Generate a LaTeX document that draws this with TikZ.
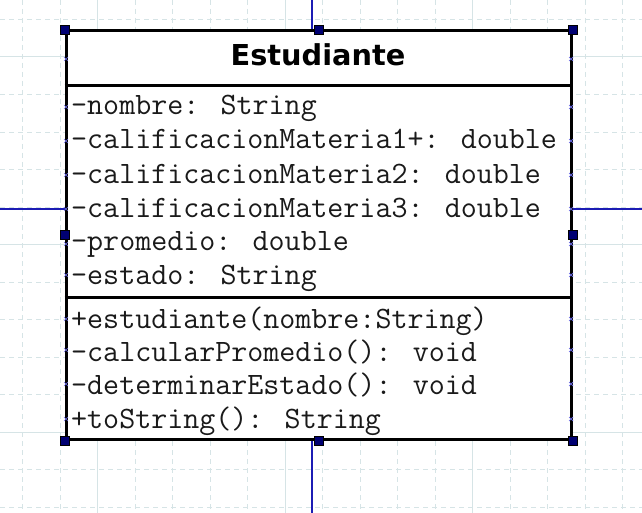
\documentclass[tikz,border=0pt]{standalone}
\usepackage{fontspec}
\usepackage{tikz}
\usetikzlibrary{calc}
\newfontfamily\titlefont{DejaVu Sans}
\definecolor{umlGrid}{HTML}{D6E4E6}
\definecolor{umlLink}{HTML}{1C1CB4}
\definecolor{umlHandle}{HTML}{000072}
\definecolor{umlPort}{HTML}{6B6BE6}
\definecolor{umlText}{HTML}{1A1A1A}
\tikzset{
  minorgrid/.style={draw=umlGrid, line width=0.9pt, dash pattern=on 5pt off 4pt},
  majorgrid/.style={draw=umlGrid, line width=1pt},
  classbox/.style={draw=black, fill=white, line width=3pt,
              minimum width=505pt, minimum height=408pt, inner sep=0pt},
  sepline/.style={draw=black, line width=3pt},
  classname/.style={font=\titlefont\bfseries\fontsize{28.8}{32}\selectfont,
              text=black, inner sep=0pt, anchor=base},
  member/.style={font=\ttfamily\fontsize{31.1}{34}\selectfont,
              text=umlText, inner sep=0pt, anchor=base west},
  link/.style={draw=umlLink, line width=1.3pt},
  handle/.style={draw=black, fill=umlHandle, line width=0.6pt,
              minimum size=9pt, inner sep=0pt},
  portx/.style={draw=umlPort, line width=0.7pt},
}

\begin{document}
\begin{tikzpicture}[x=1pt,y=-1pt]
        \useasboundingbox (0,0) rectangle (642,513);
        \fill[white] (0,0) rectangle (642,513);
        \foreach \k in {0,...,16}{
          \pgfmathsetmacro{\gx}{22.5+37.5*\k}
          \ifnum\k=2 \draw[majorgrid] (\gx,0) -- (\gx,513);
          \else\ifnum\k=7 \draw[majorgrid] (\gx,0) -- (\gx,513);
          \else\ifnum\k=12 \draw[majorgrid] (\gx,0) -- (\gx,513);
          \else \draw[minorgrid] (\gx,0) -- (\gx,513);\fi\fi\fi
        }
        \foreach \k in {0,...,13}{
          \pgfmathsetmacro{\gy}{19.5+37.5*\k}
          \ifnum\k=1 \draw[majorgrid] (0,\gy) -- (642,\gy);
          \else\ifnum\k=6 \draw[majorgrid] (0,\gy) -- (642,\gy);
          \else\ifnum\k=11 \draw[majorgrid] (0,\gy) -- (642,\gy);
          \else \draw[minorgrid] (0,\gy) -- (642,\gy);\fi\fi\fi
        }
        \node[classbox] (cls) at (318.5,235) {};
        \coordinate (upEnd) at (312,0);
        \coordinate (downEnd) at (312,513);
        \coordinate (leftEnd) at (0,209);
        \coordinate (rightEnd) at (642,209);
        \draw[link] (upEnd) -- (upEnd |- cls.north);
        \draw[link] (downEnd) -- (downEnd |- cls.south);
        \draw[link] (leftEnd) -- (leftEnd -| cls.west);
        \draw[link] (rightEnd) -- (rightEnd -| cls.east);
        \node[classname] (title) at (318,66) {Estudiante};
        \draw[sepline] (cls.west |- 0,86) -- (cls.east |- 0,86);
        \draw[sepline] (cls.west |- 0,297) -- (cls.east |- 0,297);
        \foreach \i/\y/\txt in {1/115/-nombre: String,
                                2/149/-calificacionMateria1+: double,
                                3/183/-calificacionMateria2: double,
                                4/217/-calificacionMateria3: double,
                                5/250/-promedio: double,
                                6/284/-estado: String,
                                7/328/+estudiante(nombre:String),
                                8/361/-calcularPromedio(): void,
                                9/394/-determinarEstado(): void,
                                10/428/+toString(): String}{
          \node[member] (m\i) at (71,\y) {\txt};
        }
        \foreach \y in {59,107,141,175,209,244,275,319,350,384,419}{
          \draw[portx] (64,\y-2) -- (68,\y+2) (64,\y+2) -- (68,\y-2);
          \draw[portx] (569,\y-2) -- (573,\y+2) (569,\y+2) -- (573,\y-2);
        }
        \foreach \a/\n in {north west/1,north/2,north east/3,east/4,
                           south east/5,south/6,south west/7,west/8}{
          \node[handle] (h\n) at (cls.\a) {};
        }
      \end{tikzpicture}
\end{document}
